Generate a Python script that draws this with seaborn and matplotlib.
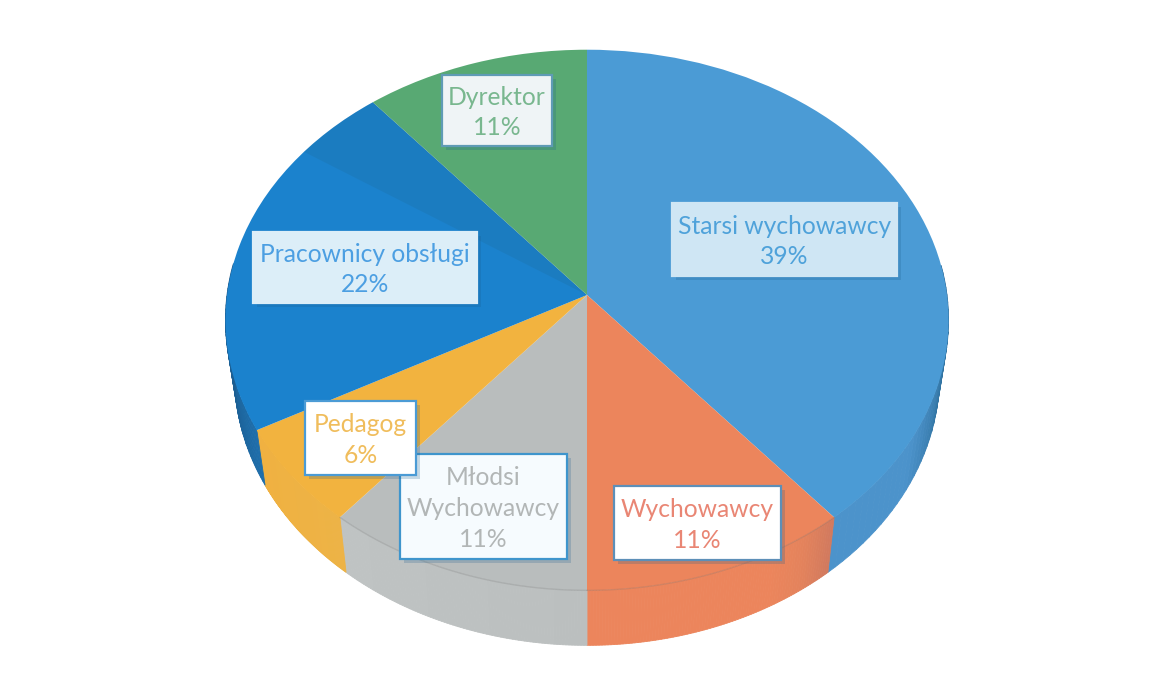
import numpy as np
import matplotlib
matplotlib.use("Agg")
import matplotlib.pyplot as plt
import matplotlib.patheffects as pe
from matplotlib.collections import PolyCollection
from matplotlib.patches import Rectangle
from matplotlib.transforms import Transform
import seaborn as sns

# Datos
categories = ["Starsi wychowawcy", "Wychowawcy", "Młodsi\nWychowawcy", "Pedagog", "Pracownicy obsługi", "Dyrektor"]
percents = [39, 11, 11, 6, 22, 11]
top_colors = ["#4B9BD5", "#EC855C", "#B9BDBD", "#F2B33F", "#1B82CD", "#58A973"]
text_colors = ["#4FA2DA", "#E98674", "#B2B6B6", "#F0BD5C", "#4C9FE2", "#79B78F"]

# Paredes del pastel 3D
wall_stops = [
    ["#1F5F8F", "#2F719F", "#4C93CB", "#4C93CB"],
    ["#D27A5E", "#E4835C", "#EC855C", "#EC855C", "#EC855C", "#EC855C", "#EC855C", "#EC855C"],
    ["#BBBFBF", "#BFC3C3"],
    ["#EDB346", "#F0B141"],
    ["#1E6EAB", "#1A527F"],
    ["#58A973", "#58A973"],
]

# Cajas de etiquetas: x0, y0, x1, y1 en pixeles
boxes = [(672, 203, 897, 276), (614, 486, 781, 560), (400, 454, 567, 559),
         (305, 401, 416, 475), (253, 232, 477, 303), (442, 75, 552, 146)]
box_fill = ["#CFE6F4", "#FFFFFF", "#F6FBFE", "#FFFFFF", "#DCEEF8", "#EFF4F6"]
box_edge = ["#CFE6F4", "#5D8FB8", "#3F95CC", "#4B9BD5", "#DCEEF8", "#5F9BB5"]

CX, CY, RX, RY, K, DEPTH, SHRINK = 587, 295, 360, 268, 0.0926, 55, 0.975


def project(x, y):
    d = 1 + K * y
    return CX + RX * x / d, CY - RY * y / d


class Perspective(Transform):
    input_dims = output_dims = 2
    is_separable = False
    has_inverse = False

    def transform_non_affine(self, values):
        x, y = project(values[:, 0], values[:, 1])
        return np.column_stack([x, y])


sns.set_theme(style="white")
plt.rcParams["font.family"] = ["Lato", "DejaVu Sans"]

fig, ax = plt.subplots(figsize=(11.49, 6.77), dpi=100)
fig.subplots_adjust(0, 0, 1, 1)

# Cara superior
palette = sns.color_palette(top_colors)
wedges, _ = ax.pie(percents, colors=palette, startangle=90, counterclock=False,
                   wedgeprops={"linewidth": 0})
persp = Perspective() + ax.transData
for w in wedges:
    w.set_transform(persp)
    w.set_zorder(3)

# Banda oscura junto al borde de Dyrektor
cum = np.cumsum([0] + percents) / sum(percents)
band, _ = ax.pie([4.5, 95.5], colors=["#1F5F80", "none"], startangle=90 - cum[5] * 360 + 4.5 * 3.6,
                 counterclock=False, wedgeprops={"linewidth": 0, "alpha": 0.16})
band[0].set_transform(persp)
band[0].set_zorder(4)
band[1].set_visible(False)

ax.set_aspect("auto")
ax.set_xlim(0, 1149)
ax.set_ylim(677, 0)
ax.set_axis_off()

# Paredes laterales, por segmentos de cada porcion
for i in range(len(percents)):
    th = np.linspace(cum[i], cum[i + 1], 90) * 2 * np.pi
    th = th[np.cos(th) < 0.12]
    if len(th) < 2:
        continue
    px, py = project(np.sin(th), np.cos(th))
    qx = CX + (px - CX) * SHRINK
    qy = py + DEPTH
    quads = [[(px[j], py[j]), (px[j + 1], py[j + 1]), (qx[j + 1], qy[j + 1]), (qx[j], qy[j])]
             for j in range(len(th) - 1)]
    cols = sns.blend_palette(wall_stops[i], n_colors=len(quads))
    ax.add_collection(PolyCollection(quads, facecolors=cols, edgecolors=cols, linewidths=0.6, zorder=1))

    # Linea tenue del borde superior
    if i in (1, 2):
        ax.plot(px, py, color="#6E6E6E", lw=1.0, alpha=0.22, zorder=4)

# Etiquetas
for i, (x0, y0, x1, y1) in enumerate(boxes):
    z = 6 if i == 3 else 5
    r = Rectangle((x0, y0), x1 - x0, y1 - y0, facecolor=box_fill[i], edgecolor=box_edge[i], lw=1.6, zorder=z)
    r.set_path_effects([pe.SimplePatchShadow(offset=(3, -3), shadow_rgbFace="#1A5C8C", alpha=0.22), pe.Normal()])
    ax.add_patch(r)
    ax.text((x0 + x1) / 2, (y0 + y1) / 2 + 2, f"{categories[i]}\n{percents[i]}%", color=text_colors[i],
            ha="center", va="center", fontsize=17.7, linespacing=1.42, zorder=z + 1)

fig.savefig("out.png", dpi=100, facecolor="white")
